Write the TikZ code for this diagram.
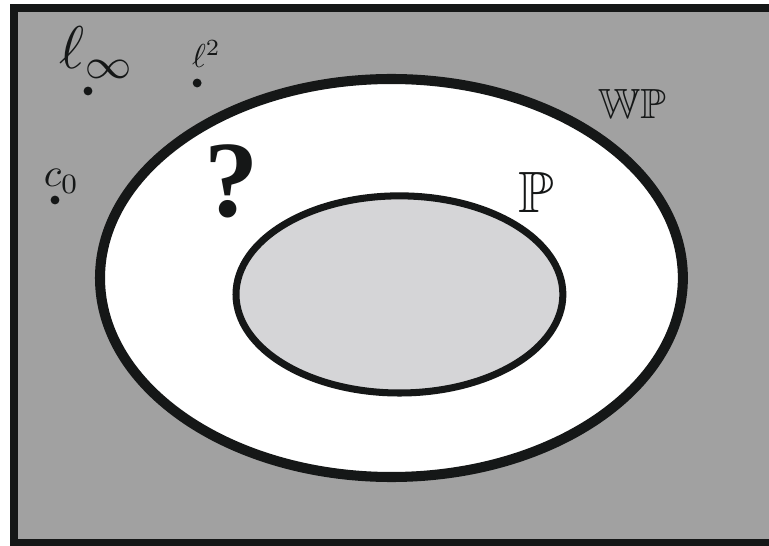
\documentclass[tikz,border=0pt]{standalone}
\usepackage{amssymb}
\usepackage[no-math]{fontspec}
\newfontfamily\questfont{Liberation Serif}
\definecolor{outergray}{HTML}{A1A1A1}
\definecolor{innergray}{HTML}{D5D5D7}
\definecolor{inkblack}{HTML}{151717}

\begin{document}
\begin{tikzpicture}[every node/.style={inner sep=0pt, text=inkblack},
    pointdot/.style={circle, fill=inkblack, minimum size=0.31cm}]
    \useasboundingbox (0,0) rectangle (26.915,19.075);
    % Background space
    \begin{scope}
        \clip (0,0) rectangle (26.915,19.075);
        \draw[inkblack, line width=8pt, fill=outergray] (0.49,0.07) rectangle (27.4,18.795);
    \end{scope}

    % WP and P
    \draw[inkblack, line width=10pt, fill=white] (13.70,9.345) ellipse [x radius=10.20, y radius=6.965];
    \draw[inkblack, line width=7pt, fill=innergray] (13.98,8.77) ellipse [x radius=5.72, y radius=3.45];

    % Labels
    \node[anchor=base west, scale=6] (linf) at (2.03,16.66) {$\ell_\infty$};
    \node[anchor=base west, scale=3.3] (ltwo) at (6.70,16.695) {$\ell^2$};
    \node[anchor=base west, scale=4] (czero) at (1.505,12.53) {$c_0$};
    \node[scale=4.2] (wp) at (22.12,15.45) {$\mathbb{WP}$};
    \node[scale=5.8] (p) at (18.76,12.355) {$\mathbb{P}$};
    \node[scale=10.8, font=\questfont\bfseries] (quest) at (8.12,12.74) {?};

    % Points
    \node[pointdot] (linfdot) at (3.08,15.89) {};
    \node[pointdot] (ltwodot) at (6.90,16.17) {};
    \node[pointdot] (czerodot) at (1.925,12.075) {};
\end{tikzpicture}
\end{document}
